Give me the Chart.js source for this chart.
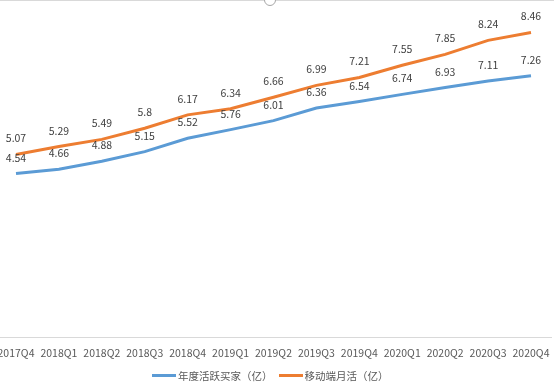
<!DOCTYPE html>
<html>
<head>
<meta charset="utf-8">
<script src="https://cdn.jsdelivr.net/npm/chart.js@4/dist/chart.umd.min.js"></script>
<style>
    html, body { margin: 0; padding: 0; background: #fff; }
    #wrap { position: relative; width: 554px; height: 384px; }
    #wrap:before {
        content: ""; position: absolute; left: 0; right: 0; top: 0;
        border-top: 1px solid #d9d9d9;
    }
    #knob {
        position: absolute; left: 264px; top: -6px; width: 10px; height: 10px;
        border: 1px solid #a6a6a6; border-radius: 50%; background: #fff;
    }
    #legend {
        position: absolute; left: 152px; top: 368px; height: 15px;
        font: 10.5px "Noto Sans CJK SC", "Noto Sans", sans-serif; color: #595959;
        display: flex; align-items: center; white-space: nowrap;
    }
    #legend .item { display: flex; align-items: center; margin-right: 6px; }
    #legend .swatch { width: 24px; height: 3px; margin-right: 2px; }
</style>
</head>
<body>
<div id="wrap">
    <canvas id="canvas" width="554" height="384"></canvas>
    <div id="knob"></div>
    <div id="legend"></div>
</div>
<script>
const quarters = ["2017Q4", "2018Q1", "2018Q2", "2018Q3", "2018Q4", "2019Q1", "2019Q2",
    "2019Q3", "2019Q4", "2020Q1", "2020Q2", "2020Q3", "2020Q4"];
const buyers = [4.54, 4.66, 4.88, 5.15, 5.52, 5.76, 6.01, 6.36, 6.54, 6.74, 6.93, 7.11, 7.26];
const mobileMau = [5.07, 5.29, 5.49, 5.8, 6.17, 6.34, 6.66, 6.99, 7.21, 7.55, 7.85, 8.24, 8.46];

const fontFamily = '"Noto Sans CJK SC", "Noto Sans", sans-serif';

// value labels above each point
const valueLabels = {
    id: 'valueLabels',
    afterDatasetsDraw(chart) {
        const ctx = chart.ctx;
        ctx.save();
        ctx.font = '10.5px ' + fontFamily;
        ctx.fillStyle = '#404040';
        ctx.textAlign = 'center';
        ctx.textBaseline = 'middle';
        chart.data.datasets.forEach((ds, i) => {
            chart.getDatasetMeta(i).data.forEach((pt, j) => {
                ctx.fillText(String(ds.data[j]), pt.x, pt.y - 16);
            });
        });
        ctx.restore();
    }
};

// thin axis line across the whole width
const axisLine = {
    id: 'axisLine',
    beforeDatasetsDraw(chart) {
        const ctx = chart.ctx;
        const y = Math.round(chart.chartArea.bottom) + 0.5;
        ctx.save();
        ctx.strokeStyle = '#d9d9d9';
        ctx.lineWidth = 1;
        ctx.beginPath();
        ctx.moveTo(0, y);
        ctx.lineTo(552, y);
        ctx.stroke();
        ctx.restore();
    }
};

const ctx = document.getElementById('canvas').getContext('2d');
const chart = new Chart(ctx, {
    type: 'line',
    data: {
        labels: quarters,
        datasets: [{
            label: '年度活跃买家（亿）',
            data: buyers,
            borderColor: '#5B9BD5',
            backgroundColor: '#5B9BD5',
            borderWidth: 3,
            pointRadius: 0,
            tension: 0
        }, {
            label: '移动端月活（亿）',
            data: mobileMau,
            borderColor: '#ED7D31',
            backgroundColor: '#ED7D31',
            borderWidth: 3,
            pointRadius: 0,
            tension: 0
        }]
    },
    options: {
        responsive: false,
        animation: false,
        layout: {
            padding: { left: 16, right: 23, top: 13, bottom: 17 }
        },
        plugins: {
            tooltip: { enabled: false },
            legend: { display: false }
        },
        scales: {
            x: {
                grid: { display: false },
                border: { display: false },
                ticks: {
                    color: '#595959',
                    font: { family: fontFamily, size: 10.5 },
                    padding: 2,
                    autoSkip: false,
                    maxRotation: 0
                },
                afterFit(scale) {
                    // let edge labels run past the plot, like the original
                    scale.paddingLeft = 0;
                    scale.paddingRight = 0;
                    scale.height = 30;
                }
            },
            y: {
                display: false,
                min: 0,
                max: 9
            }
        }
    },
    plugins: [valueLabels, axisLine]
});

// legend below the axis
const legendEl = document.getElementById('legend');
chart.data.datasets.forEach(ds => {
    const item = document.createElement('div');
    item.className = 'item';
    const sw = document.createElement('span');
    sw.className = 'swatch';
    sw.style.background = ds.borderColor;
    const txt = document.createElement('span');
    txt.textContent = ds.label;
    item.appendChild(sw);
    item.appendChild(txt);
    legendEl.appendChild(item);
});
</script>
</body>
</html>
